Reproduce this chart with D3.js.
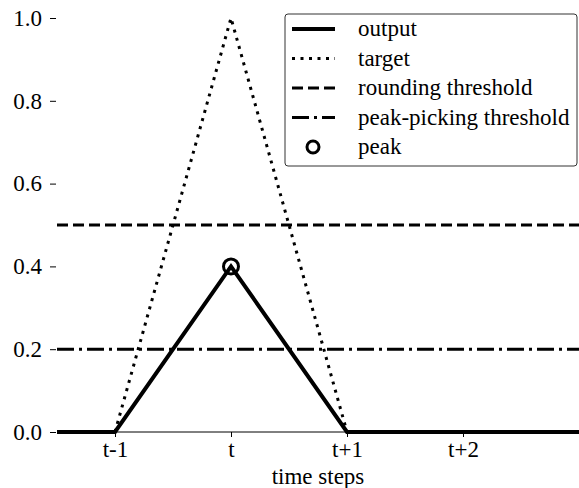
<!DOCTYPE html>
<meta charset="utf-8">
<style type="text/css">
body { margin: 0; background: #fff; }
text { font-family: "Liberation Serif", "Times New Roman", serif; fill: #000; }
.out { fill: none; stroke: #000; stroke-width: 4; }
.tgt { fill: none; stroke: #000; stroke-width: 3; stroke-dasharray: 3 5.5; }
.rnd { fill: none; stroke: #000; stroke-width: 3; stroke-dasharray: 11 5; }
.pp  { fill: none; stroke: #000; stroke-width: 3; stroke-dasharray: 17 5 3 5; }
.peak { fill: none; stroke: #000; stroke-width: 3; }
</style>
<body>
</body>

<script src="https://d3js.org/d3.v7.min.js"></script>
<script>

var width = 579, height = 488;

// time step offsets relative to t
var steps = [-1.5, -1, 0, 1, 2, 3];
var output = [0, 0, 0.4, 0, 0, 0];
var targetSteps = [-1, 0, 1];
var target = [0, 1, 0];
var roundingThreshold = 0.5;
var peakPickingThreshold = 0.2;
var peakStep = 0, peakValue = 0.4;

var tickSteps = [-1, 0, 1, 2];
var tickLabels = ["t-1", "t", "t+1", "t+2"];
var yTicks = [0, 0.2, 0.4, 0.6, 0.8, 1.0];
var legendNames = ["output", "target", "rounding threshold", "peak-picking threshold", "peak"];

var fontSize = "23px";

var xScale = d3.scaleLinear()
    .domain([-1.5, 3])
    .range([57, 579]);

var yScale = d3.scaleLinear()
    .domain([0, 1])
    .range([432, 18]);

var svg = d3.select("body").append("svg")
    .attr("width", width)
    .attr("height", height);

// bottom spine
svg.append("line")
    .attr("x1", xScale(-1.5)).attr("x2", xScale(3))
    .attr("y1", yScale(0)).attr("y2", yScale(0))
    .attr("stroke", "#000").attr("stroke-width", 1);

var xAxis = svg.append("g")
    .attr("transform", "translate(0," + yScale(0) + ")")
    .call(d3.axisBottom(xScale).tickValues(tickSteps)
        .tickFormat(function(d, i) { return tickLabels[i]; })
        .tickSize(5).tickPadding(4));
xAxis.select(".domain").remove();
xAxis.attr("font-family", null);
xAxis.selectAll("text").style("font-size", fontSize);

var yAxis = svg.append("g")
    .attr("transform", "translate(56,0)")
    .call(d3.axisLeft(yScale).tickValues(yTicks)
        .tickFormat(d3.format(".1f"))
        .tickSize(6).tickPadding(8));
yAxis.select(".domain").remove();
yAxis.attr("font-family", null);
yAxis.selectAll("text").style("font-size", fontSize);

svg.append("text")
    .attr("x", 318).attr("y", 484)
    .attr("text-anchor", "middle")
    .style("font-size", fontSize)
    .text("time steps");

var line = d3.line()
    .x(function(d) { return xScale(d[0]); })
    .y(function(d) { return yScale(d[1]); });

svg.append("path")
    .datum(d3.zip(targetSteps, target))
    .attr("class", "tgt")
    .attr("d", line);

svg.append("path")
    .datum([[-1.5, roundingThreshold], [3, roundingThreshold]])
    .attr("class", "rnd")
    .attr("d", line);

svg.append("path")
    .datum([[-1.5, peakPickingThreshold], [3, peakPickingThreshold]])
    .attr("class", "pp")
    .attr("d", line);

svg.append("path")
    .datum(d3.zip(steps, output))
    .attr("class", "out")
    .attr("d", line);

svg.append("circle")
    .attr("class", "peak")
    .attr("cx", xScale(peakStep))
    .attr("cy", yScale(peakValue))
    .attr("r", 7.5);

// legend
var lg = svg.append("g").attr("transform", "translate(285,14)");
lg.append("rect")
    .attr("width", 292).attr("height", 152)
    .attr("rx", 3)
    .attr("fill", "#fff")
    .attr("stroke", "#333").attr("stroke-width", 1);

var classes = ["out", "tgt", "rnd", "pp", "peak"];
legendNames.forEach(function(name, i) {
    var y = 15 + i * 29.5;
    if (classes[i] === "peak") {
        lg.append("circle").attr("class", "peak")
            .attr("cx", 28).attr("cy", y).attr("r", 6);
    } else {
        lg.append("line").attr("class", classes[i])
            .attr("x1", 7).attr("x2", 50)
            .attr("y1", y).attr("y2", y);
    }
    lg.append("text")
        .attr("x", 73).attr("y", y + 7)
        .style("font-size", fontSize)
        .text(name);
});

</script>
